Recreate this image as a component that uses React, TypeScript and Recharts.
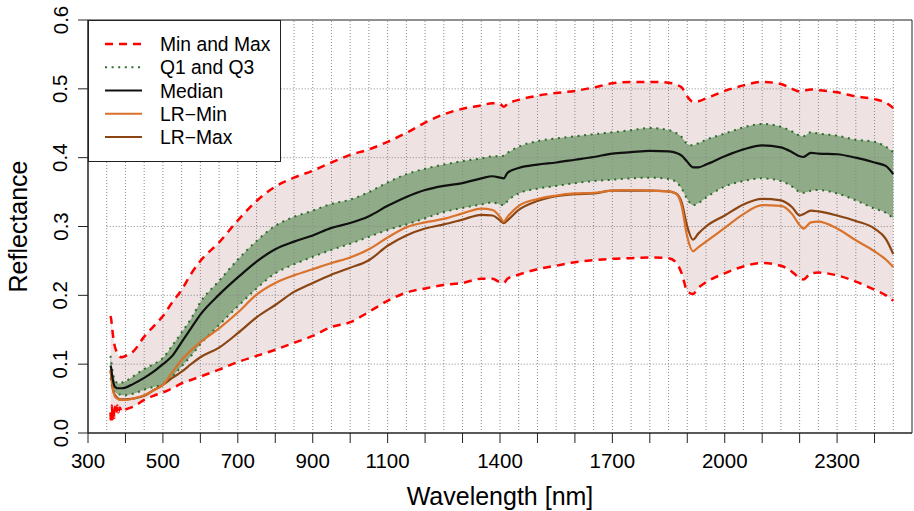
import React from 'react';
import { ComposedChart, Area, Line, XAxis, YAxis, ReferenceLine, ReferenceArea, Legend } from 'recharts';

const FONT = '"Liberation Sans", Arial, Helvetica, sans-serif';

const wavelengths = [
  360, 362, 364, 366, 368, 370, 372, 375, 378, 381, 385, 390,
  400, 420, 450, 475, 500, 525, 550, 575, 600, 650, 700, 750,
  800, 850, 900, 950, 1000, 1050, 1100, 1150, 1200, 1250, 1300, 1350,
  1380, 1400, 1410, 1420, 1450, 1500, 1550, 1600, 1650, 1700, 1750, 1800,
  1850, 1870, 1885, 1900, 1915, 1930, 1950, 2000, 2050, 2100, 2150, 2180,
  2200, 2210, 2230, 2250, 2300, 2350, 2400, 2430, 2450,
];

const maxVals = [
  0.170, 0.165, 0.155, 0.145, 0.137, 0.130, 0.125, 0.120, 0.116, 0.113, 0.111, 0.110,
  0.112, 0.118, 0.140, 0.155, 0.170, 0.190, 0.208, 0.231, 0.250, 0.277, 0.309, 0.337,
  0.358, 0.371, 0.381, 0.393, 0.404, 0.412, 0.423, 0.436, 0.451, 0.463, 0.471, 0.476,
  0.479, 0.478, 0.474, 0.478, 0.484, 0.490, 0.494, 0.497, 0.502, 0.508, 0.510, 0.510,
  0.509, 0.506, 0.502, 0.489, 0.481, 0.482, 0.486, 0.497, 0.505, 0.510, 0.507, 0.500,
  0.496, 0.497, 0.499, 0.498, 0.495, 0.489, 0.485, 0.480, 0.472,
];

const minVals = [
  0.030, 0.014, 0.040, 0.020, 0.036, 0.022, 0.038, 0.027, 0.040, 0.030, 0.037, 0.031,
  0.034, 0.038, 0.048, 0.054, 0.059, 0.065, 0.072, 0.077, 0.082, 0.092, 0.103, 0.112,
  0.121, 0.131, 0.141, 0.154, 0.161, 0.176, 0.192, 0.204, 0.210, 0.215, 0.218, 0.224,
  0.224, 0.219, 0.218, 0.224, 0.230, 0.238, 0.243, 0.248, 0.251, 0.253, 0.254, 0.255,
  0.254, 0.248, 0.232, 0.206, 0.202, 0.211, 0.219, 0.232, 0.242, 0.247, 0.243, 0.234,
  0.225, 0.223, 0.232, 0.233, 0.229, 0.220, 0.208, 0.200, 0.192,
];

const q3Vals = [
  0.112, 0.105, 0.095, 0.088, 0.083, 0.079, 0.076, 0.074, 0.073, 0.072, 0.072, 0.073,
  0.075, 0.082, 0.093, 0.100, 0.109, 0.127, 0.146, 0.166, 0.190, 0.221, 0.252, 0.279,
  0.301, 0.314, 0.323, 0.333, 0.339, 0.350, 0.364, 0.376, 0.384, 0.390, 0.395, 0.399,
  0.402, 0.402, 0.403, 0.407, 0.416, 0.424, 0.428, 0.431, 0.434, 0.437, 0.440, 0.443,
  0.440, 0.436, 0.430, 0.420, 0.418, 0.421, 0.426, 0.435, 0.444, 0.449, 0.445, 0.438,
  0.432, 0.431, 0.437, 0.435, 0.432, 0.426, 0.423, 0.416, 0.408,
];

const q1Vals = [
  0.080, 0.075, 0.068, 0.064, 0.061, 0.060, 0.059, 0.058, 0.057, 0.056, 0.056, 0.055,
  0.055, 0.057, 0.063, 0.067, 0.071, 0.082, 0.097, 0.112, 0.129, 0.157, 0.184, 0.210,
  0.232, 0.245, 0.256, 0.266, 0.275, 0.285, 0.295, 0.303, 0.312, 0.321, 0.327, 0.332,
  0.335, 0.332, 0.331, 0.337, 0.348, 0.355, 0.359, 0.363, 0.366, 0.368, 0.370, 0.371,
  0.369, 0.365, 0.355, 0.340, 0.331, 0.334, 0.342, 0.358, 0.366, 0.370, 0.366, 0.358,
  0.350, 0.349, 0.352, 0.353, 0.348, 0.338, 0.326, 0.320, 0.312,
];

const medianVals = [
  0.098, 0.094, 0.085, 0.078, 0.073, 0.069, 0.067, 0.066, 0.065, 0.065, 0.065, 0.065,
  0.066, 0.071, 0.080, 0.089, 0.100, 0.112, 0.132, 0.152, 0.172, 0.201, 0.226, 0.249,
  0.267, 0.278, 0.287, 0.298, 0.305, 0.315, 0.330, 0.343, 0.353, 0.359, 0.363, 0.370,
  0.373, 0.371, 0.370, 0.378, 0.385, 0.390, 0.393, 0.397, 0.401, 0.406, 0.408, 0.410,
  0.409, 0.407, 0.403, 0.394, 0.386, 0.386, 0.390, 0.402, 0.412, 0.418, 0.415, 0.408,
  0.402, 0.401, 0.407, 0.406, 0.405, 0.400, 0.393, 0.388, 0.376,
];

const lrMinVals = [
  0.092, 0.085, 0.075, 0.066, 0.060, 0.056, 0.053, 0.051, 0.050, 0.049, 0.048, 0.048,
  0.048, 0.050, 0.055, 0.062, 0.070, 0.088, 0.106, 0.120, 0.132, 0.152, 0.175, 0.201,
  0.218, 0.229, 0.238, 0.247, 0.255, 0.267, 0.284, 0.299, 0.306, 0.311, 0.319, 0.326,
  0.324, 0.314, 0.307, 0.314, 0.330, 0.340, 0.345, 0.348, 0.349, 0.352, 0.353, 0.352,
  0.351, 0.348, 0.330, 0.285, 0.264, 0.270, 0.278, 0.298, 0.318, 0.331, 0.330, 0.318,
  0.302, 0.297, 0.306, 0.307, 0.297, 0.280, 0.264, 0.252, 0.241,
];

const lrMaxVals = [
  0.090, 0.083, 0.073, 0.065, 0.060, 0.057, 0.055, 0.053, 0.051, 0.050, 0.049, 0.049,
  0.049, 0.050, 0.054, 0.062, 0.070, 0.080, 0.089, 0.100, 0.110, 0.124, 0.145, 0.168,
  0.186, 0.205, 0.218, 0.230, 0.240, 0.251, 0.272, 0.287, 0.297, 0.303, 0.310, 0.317,
  0.316, 0.309, 0.305, 0.309, 0.324, 0.337, 0.344, 0.347, 0.348, 0.352, 0.352, 0.352,
  0.351, 0.348, 0.335, 0.300, 0.281, 0.290, 0.300, 0.316, 0.332, 0.340, 0.338, 0.328,
  0.316, 0.318, 0.323, 0.322, 0.316, 0.308, 0.297, 0.282, 0.260,
];

const xTicks = [300, 400, 500, 600, 700, 800, 900, 1000, 1100, 1200, 1300, 1400, 1500, 1600, 1700, 1800, 1900, 2000, 2100, 2200, 2300, 2400];
const xTickLabels = [300, 500, 700, 900, 1100, 1400, 1700, 2000, 2300];
const yTicks = [0, 0.1, 0.2, 0.3, 0.4, 0.5, 0.6];
const vGrid = [
  350, 400, 450, 500, 550, 600, 650, 700, 750, 800, 850, 900, 950, 1000, 1050, 1100,
  1150, 1200, 1250, 1300, 1350, 1400, 1450, 1500, 1550, 1600, 1650, 1700, 1750, 1800,
  1850, 1900, 1950, 2000, 2050, 2100, 2150, 2200, 2250, 2300, 2350, 2400, 2450,
];
const hGrid = [0.1, 0.2, 0.3, 0.4, 0.5];
const legendLabels = ['Min and Max', 'Q1 and Q3', 'Median', 'LR\u2212Min', 'LR\u2212Max'];

const COLORS = {
  minmax: '#ff0000',
  quart: '#2b6e2b',
  median: '#101010',
  lrMin: '#d9722b',
  lrMax: '#8b4513',
  band: '#efe2e2',
  iqr: '#8fab87',
  grid: '#8a8a8a',
  axis: '#222222',
};

const data = wavelengths.map((nm, i) => ({
  nm,
  min: minVals[i],
  max: maxVals[i],
  q1: q1Vals[i],
  q3: q3Vals[i],
  median: medianVals[i],
  lrMin: lrMinVals[i],
  lrMax: lrMaxVals[i],
  band: [minVals[i], maxVals[i]],
  iqr: [q1Vals[i], q3Vals[i]],
}));

const XTick = (props: any) => {
  const { x, y, payload } = props;
  const v = payload.value;
  if (!xTickLabels.includes(v)) return <g />;
  return (
    <text x={x} y={y + 25} textAnchor="middle" fontSize={20.5} fill="#000" fontFamily={FONT}>
      {v}
    </text>
  );
};

const YTick = (props: any) => {
  const { x, y, payload } = props;
  const tx = x - 10.5;
  return (
    <text x={tx} y={y} transform={`rotate(-90 ${tx} ${y})`} textAnchor="middle" fontSize={20.5} fill="#000" fontFamily={FONT}>
      {Number(payload.value).toFixed(1)}
    </text>
  );
};

const XTitle = (props: any) => {
  const vb = props.viewBox || { x: 88, y: 433, width: 824, height: 78 };
  return (
    <text x={vb.x + vb.width / 2} y={vb.y + vb.height - 6} textAnchor="middle" fontSize={25} fill="#000" fontFamily={FONT}>
      Wavelength [nm]
    </text>
  );
};

const YTitle = (props: any) => {
  const vb = props.viewBox || { x: 0, y: 20, width: 88, height: 413 };
  const tx = vb.x + 27;
  const ty = vb.y + vb.height / 2;
  return (
    <text x={tx} y={ty} transform={`rotate(-90 ${tx} ${ty})`} textAnchor="middle" fontSize={25} fill="#000" fontFamily={FONT}>
      Reflectance
    </text>
  );
};

const renderLegend = () => {
  const styles = [
    { stroke: COLORS.minmax, dash: '8 6', w: 2.5 },
    { stroke: COLORS.quart, dash: '2 4.6', w: 2 },
    { stroke: COLORS.median, dash: undefined, w: 2.2 },
    { stroke: COLORS.lrMin, dash: undefined, w: 2.2 },
    { stroke: COLORS.lrMax, dash: undefined, w: 2.2 },
  ];
  return (
    <svg width={194} height={143} style={{ display: 'block' }}>
      <rect x={0.5} y={0.5} width={192} height={141} fill="#fff" stroke={COLORS.axis} strokeWidth={1} />
      {legendLabels.map((lab, i) => {
        const cy = 24 + i * 23.25;
        const s = styles[i];
        return (
          <g key={lab}>
            <line x1={17} x2={54} y1={cy} y2={cy} stroke={s.stroke} strokeWidth={s.w} strokeDasharray={s.dash} />
            <text x={72} y={cy + 7} fontSize={19.3} fill="#000" fontFamily={FONT}>
              {lab}
            </text>
          </g>
        );
      })}
    </svg>
  );
};

const CURVE = 'monotone' as const;

export default function App() {
  return (
    <div style={{ position: 'absolute', left: 0, top: 0, width: 914, height: 511, overflow: 'hidden', background: '#fff' }}>
      <ComposedChart width={914} height={511} data={data} margin={{ top: 20, right: 2, bottom: 0, left: 0 }}>
        <XAxis
          type="number"
          dataKey="nm"
          domain={[300, 2500]}
          ticks={xTicks}
          interval={0}
          tickSize={10}
          tickMargin={0}
          tick={<XTick />}
          stroke={COLORS.axis}
          height={78}
          allowDataOverflow
          label={{ content: <XTitle /> }}
        />
        <YAxis
          type="number"
          domain={[0, 0.6]}
          ticks={yTicks}
          interval={0}
          tickSize={10}
          tickMargin={0}
          tick={<YTick />}
          stroke={COLORS.axis}
          width={88}
          allowDataOverflow
          label={{ content: <YTitle /> }}
        />
        <Area type={CURVE} dataKey="band" fill={COLORS.band} fillOpacity={1} stroke="none" isAnimationActive={false} />
        <Area type={CURVE} dataKey="iqr" fill={COLORS.iqr} fillOpacity={1} stroke="none" isAnimationActive={false} />
        {vGrid.map((v) => (
          <ReferenceLine key={'v' + v} x={v} stroke={COLORS.grid} strokeWidth={1} strokeDasharray="1 2" />
        ))}
        {hGrid.map((v) => (
          <ReferenceLine
            key={'h' + v}
            segment={[{ x: 350, y: v }, { x: 2450, y: v }]}
            stroke={COLORS.grid}
            strokeWidth={1}
            strokeDasharray="1 2"
          />
        ))}
        <Line type={CURVE} dataKey="max" stroke={COLORS.minmax} strokeWidth={2.5} strokeDasharray="8 6" dot={false} activeDot={false} isAnimationActive={false} />
        <Line type={CURVE} dataKey="min" stroke={COLORS.minmax} strokeWidth={2.5} strokeDasharray="8 6" dot={false} activeDot={false} isAnimationActive={false} />
        <Line type={CURVE} dataKey="q3" stroke={COLORS.quart} strokeWidth={2} strokeDasharray="2 4.6" dot={false} activeDot={false} isAnimationActive={false} />
        <Line type={CURVE} dataKey="q1" stroke={COLORS.quart} strokeWidth={2} strokeDasharray="2 4.6" dot={false} activeDot={false} isAnimationActive={false} />
        <Line type={CURVE} dataKey="lrMax" stroke={COLORS.lrMax} strokeWidth={2.2} dot={false} activeDot={false} isAnimationActive={false} />
        <Line type={CURVE} dataKey="lrMin" stroke={COLORS.lrMin} strokeWidth={2.2} dot={false} activeDot={false} isAnimationActive={false} />
        <Line type={CURVE} dataKey="median" stroke={COLORS.median} strokeWidth={2.2} dot={false} activeDot={false} isAnimationActive={false} />
        <ReferenceArea x1={300} x2={2500} y1={0} y2={0.6} fill="none" stroke={COLORS.axis} strokeWidth={1} ifOverflow="visible" />
        <Legend
          layout="vertical"
          align="center"
          verticalAlign="middle"
          wrapperStyle={{ left: 88, top: 20, width: 194, height: 143 }}
          content={renderLegend}
        />
      </ComposedChart>
    </div>
  );
}
